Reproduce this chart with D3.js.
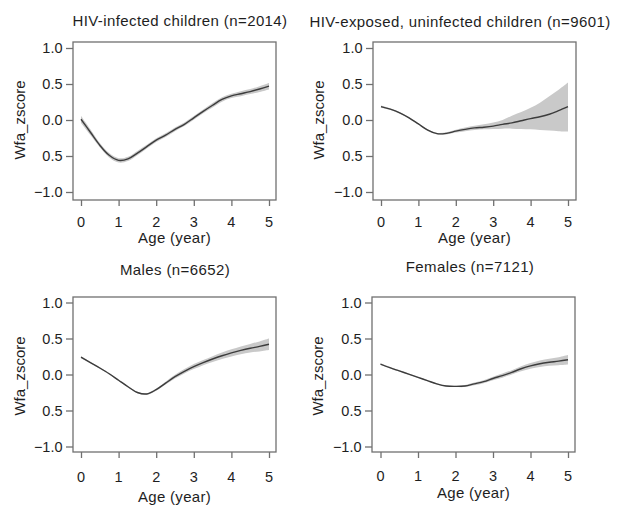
<!DOCTYPE html>
<html>
<head>
<meta charset="utf-8">
<script src="https://cdn.jsdelivr.net/npm/d3@7"></script>
<style>
  html, body { margin: 0; padding: 0; background: #fff; }
  svg { display: block; font-family: "Liberation Sans", Arial, Helvetica, sans-serif; }
</style>
</head>
<body>
<svg id="chart" width="618" height="506"></svg>
<script>
// Smoothed weight-for-age z-score by age, with confidence band
const ages = [0, 0.25, 0.5, 0.75, 1, 1.25, 1.5, 1.75, 2, 2.25, 2.5, 2.75, 3, 3.25, 3.5, 3.75, 4, 4.25, 4.5, 4.75, 5];

const panelTitles = [
  "HIV-infected children (n=2014)",
  "HIV-exposed, uninfected children (n=9601)",
  "Males (n=6652)",
  "Females (n=7121)"
];

const infectedMean  = [0.01, -0.17, -0.35, -0.49, -0.56, -0.54, -0.46, -0.37, -0.28, -0.21, -0.13, -0.06, 0.03, 0.12, 0.205, 0.285, 0.335, 0.365, 0.395, 0.43, 0.47];
const infectedUpper = [0.06, -0.13, -0.32, -0.46, -0.53, -0.51, -0.43, -0.345, -0.255, -0.185, -0.105, -0.035, 0.055, 0.145, 0.235, 0.315, 0.365, 0.40, 0.43, 0.47, 0.515];
const infectedLower = [-0.04, -0.21, -0.38, -0.52, -0.59, -0.57, -0.49, -0.395, -0.305, -0.235, -0.155, -0.085, 0.005, 0.095, 0.175, 0.255, 0.305, 0.33, 0.36, 0.39, 0.425];

const exposedMean  = [0.185, 0.15, 0.10, 0.03, -0.055, -0.14, -0.19, -0.185, -0.155, -0.13, -0.11, -0.10, -0.085, -0.06, -0.04, -0.01, 0.02, 0.045, 0.08, 0.13, 0.185];
const exposedUpper = [0.20, 0.16, 0.11, 0.04, -0.045, -0.13, -0.18, -0.17, -0.135, -0.105, -0.08, -0.06, -0.035, 0.0, 0.06, 0.11, 0.17, 0.24, 0.33, 0.42, 0.52];
const exposedLower = [0.17, 0.14, 0.09, 0.02, -0.065, -0.15, -0.20, -0.20, -0.175, -0.155, -0.14, -0.13, -0.125, -0.12, -0.12, -0.125, -0.13, -0.14, -0.145, -0.155, -0.16];

const malesMean  = [0.24, 0.165, 0.09, 0.01, -0.08, -0.17, -0.25, -0.27, -0.21, -0.12, -0.03, 0.045, 0.11, 0.165, 0.215, 0.26, 0.30, 0.335, 0.365, 0.39, 0.42];
const malesUpper = [0.255, 0.175, 0.10, 0.02, -0.07, -0.16, -0.24, -0.26, -0.195, -0.10, -0.005, 0.075, 0.145, 0.20, 0.255, 0.305, 0.35, 0.39, 0.425, 0.46, 0.50];
const malesLower = [0.225, 0.155, 0.08, 0.0, -0.09, -0.18, -0.26, -0.28, -0.225, -0.14, -0.055, 0.015, 0.075, 0.13, 0.175, 0.215, 0.25, 0.28, 0.305, 0.32, 0.34];

const femalesMean  = [0.145, 0.095, 0.05, 0.005, -0.04, -0.085, -0.13, -0.16, -0.165, -0.16, -0.13, -0.10, -0.055, -0.015, 0.03, 0.08, 0.12, 0.15, 0.17, 0.185, 0.205];
const femalesUpper = [0.155, 0.105, 0.06, 0.015, -0.03, -0.075, -0.12, -0.15, -0.155, -0.145, -0.11, -0.08, -0.03, 0.015, 0.06, 0.115, 0.16, 0.195, 0.22, 0.24, 0.27];
const femalesLower = [0.135, 0.085, 0.04, -0.005, -0.05, -0.095, -0.14, -0.17, -0.175, -0.175, -0.15, -0.12, -0.08, -0.045, 0.0, 0.045, 0.08, 0.105, 0.12, 0.13, 0.14];

const xTicks = [0, 1, 2, 3, 4, 5];
const yTicks = [-1, -0.5, 0, 0.5, 1];
const yTickLabels = ["\u22121.0", "0.5", "0.0", "0.5", "1.0"];
const xAxisTitle = "Age (year)";
const yAxisTitle = "Wfa_zscore";

const seriesMean  = [infectedMean, exposedMean, malesMean, femalesMean];
const seriesUpper = [infectedUpper, exposedUpper, malesUpper, femalesUpper];
const seriesLower = [infectedLower, exposedLower, malesLower, femalesLower];

// Panel geometry (pixels)
const layout = [
  { box: [73, 42, 276, 200], x0: 81, x5: 269, y1: 48, ym1: 192, titleX: 180, titleY: 26, xlabY: 227, xtitleY: 243, ytitleX: 25, ytitleY: 120 },
  { box: [373, 42, 576, 200], x0: 381, x5: 568, y1: 48, ym1: 192, titleX: 460, titleY: 26.5, xlabY: 227, xtitleY: 243, ytitleX: 324, ytitleY: 120 },
  { box: [73, 297, 276, 452], x0: 81, x5: 269, y1: 302.5, ym1: 446.5, titleX: 175, titleY: 275, xlabY: 482, xtitleY: 501.5, ytitleX: 25, ytitleY: 376 },
  { box: [372, 297, 575, 452], x0: 380.5, x5: 568, y1: 302.5, ym1: 446.5, titleX: 470, titleY: 271.5, xlabY: 481, xtitleY: 497.5, ytitleX: 323, ytitleY: 376 }
];

const svg = d3.select("#chart");
const textColor = "#1e1e1e";
const frameColor = "#707070";
const smooth = d3.curveCatmullRom.alpha(0.5);

layout.forEach((L, i) => {
  const x = d3.scaleLinear().domain([0, 5]).range([L.x0, L.x5]);
  const y = d3.scaleLinear().domain([-1, 1]).range([L.ym1, L.y1]);
  const g = svg.append("g");

  const pts = ages.map((a, k) => ({ a, m: seriesMean[i][k], lo: seriesLower[i][k], hi: seriesUpper[i][k] }));

  // confidence band
  g.append("path")
    .datum(pts)
    .attr("fill", "#c9c9c9")
    .attr("d", d3.area().curve(smooth)
      .x(d => x(d.a)).y0(d => y(d.lo)).y1(d => y(d.hi)));

  // smoothed mean
  g.append("path")
    .datum(pts)
    .attr("fill", "none")
    .attr("stroke", "#3c3c3c")
    .attr("stroke-width", 1.4)
    .attr("d", d3.line().curve(smooth).x(d => x(d.a)).y(d => y(d.m)));

  // frame
  const [bx0, by0, bx1, by1] = L.box;
  g.append("rect")
    .attr("x", bx0).attr("y", by0)
    .attr("width", bx1 - bx0).attr("height", by1 - by0)
    .attr("fill", "none").attr("stroke", frameColor).attr("stroke-width", 1.3);

  // x axis
  const xAxis = g.append("g")
    .attr("transform", `translate(0,${by1})`)
    .call(d3.axisBottom(x).tickValues(xTicks).tickFormat(d3.format("d")).tickSize(6).tickPadding(6));
  xAxis.select(".domain").remove();
  xAxis.selectAll(".tick line").attr("stroke", frameColor).attr("stroke-width", 1.3);
  xAxis.selectAll(".tick text").remove();
  g.selectAll(".xl").data(xTicks).enter().append("text")
    .attr("x", d => x(d)).attr("y", L.xlabY)
    .attr("text-anchor", "middle").attr("font-size", 14.5).attr("fill", textColor)
    .text(d => d);

  // y axis
  const yAxis = g.append("g")
    .attr("transform", `translate(${bx0},0)`)
    .call(d3.axisLeft(y).tickValues(yTicks).tickSize(7));
  yAxis.select(".domain").remove();
  yAxis.selectAll(".tick line").attr("stroke", frameColor).attr("stroke-width", 1.3);
  yAxis.selectAll(".tick text").remove();
  g.selectAll(".yl").data(yTicks).enter().append("text")
    .attr("x", bx0 - 10.5).attr("y", d => y(d) + 5)
    .attr("text-anchor", "end").attr("font-size", 14.5).attr("fill", textColor)
    .text((d, k) => yTickLabels[k]);

  // titles
  g.append("text")
    .attr("x", L.titleX).attr("y", L.titleY)
    .attr("text-anchor", "middle").attr("font-size", 15).attr("letter-spacing", 0.4)
    .attr("fill", textColor).text(panelTitles[i]);

  g.append("text")
    .attr("x", (bx0 + bx1) / 2).attr("y", L.xtitleY)
    .attr("text-anchor", "middle").attr("font-size", 15).attr("letter-spacing", 0.3)
    .attr("fill", textColor).text(xAxisTitle);

  g.append("text")
    .attr("transform", `translate(${L.ytitleX},${L.ytitleY}) rotate(-90)`)
    .attr("text-anchor", "middle").attr("font-size", 15)
    .attr("fill", textColor).text(yAxisTitle);
});
</script>
</body>
</html>
